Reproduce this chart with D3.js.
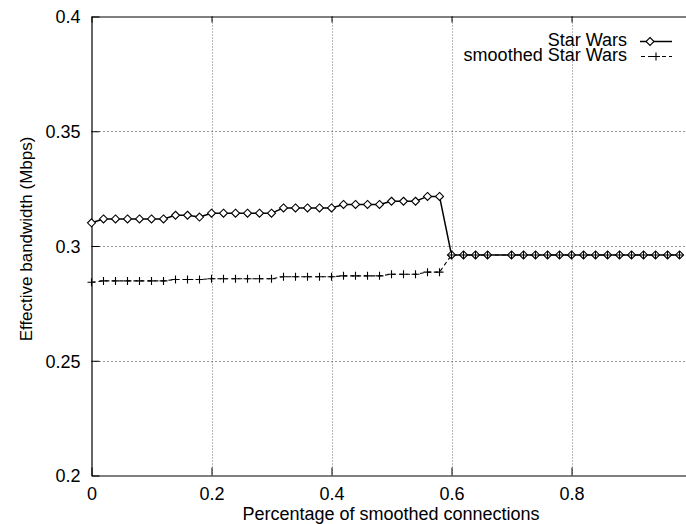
<!DOCTYPE html>
<html>
<head>
<meta charset="utf-8">
<script src="https://cdn.jsdelivr.net/npm/d3@7"></script>
<style>
  html, body { margin: 0; padding: 0; background: #fff; }
  svg { display: block; font-family: "Liberation Sans", Arial, sans-serif; }
</style>
</head>
<body>
<svg id="chart" width="686" height="524"></svg>
<script>
// ---- data ----
const xValues = [0, 0.02, 0.04, 0.06, 0.08, 0.10, 0.12, 0.14, 0.16, 0.18,
  0.20, 0.22, 0.24, 0.26, 0.28, 0.30, 0.32, 0.34, 0.36, 0.38,
  0.40, 0.42, 0.44, 0.46, 0.48, 0.50, 0.52, 0.54, 0.56, 0.58,
  0.60, 0.62, 0.64, 0.66, 0.70, 0.72, 0.74, 0.76, 0.78,
  0.80, 0.82, 0.84, 0.86, 0.88, 0.90, 0.92, 0.94, 0.96, 0.98];
const starWars = [0.3101, 0.3118, 0.3118, 0.3118, 0.3118, 0.3118, 0.3118, 0.3134, 0.3134, 0.3126,
  0.3143, 0.3143, 0.3143, 0.3143, 0.3143, 0.3143, 0.3166, 0.3166, 0.3166, 0.3166,
  0.3166, 0.3181, 0.3181, 0.3181, 0.3181, 0.3195, 0.3195, 0.3195, 0.3216, 0.3216,
  0.2961, 0.2961, 0.2961, 0.2961, 0.2961, 0.2961, 0.2961, 0.2961, 0.2961,
  0.2961, 0.2961, 0.2961, 0.2961, 0.2961, 0.2961, 0.2961, 0.2961, 0.2961, 0.2961];
const smoothedStarWars = [0.2842, 0.2848, 0.2848, 0.2848, 0.2848, 0.2848, 0.2848, 0.2854, 0.2854, 0.2854,
  0.2857, 0.2857, 0.2857, 0.2857, 0.2857, 0.2857, 0.2866, 0.2866, 0.2866, 0.2866,
  0.2866, 0.2870, 0.2870, 0.2870, 0.2870, 0.2877, 0.2877, 0.2877, 0.2886, 0.2886,
  0.2961, 0.2961, 0.2961, 0.2961, 0.2961, 0.2961, 0.2961, 0.2961, 0.2961,
  0.2961, 0.2961, 0.2961, 0.2961, 0.2961, 0.2961, 0.2961, 0.2961, 0.2961, 0.2961];
const seriesNames = ["Star Wars", "smoothed Star Wars"];
const xTicks = [0, 0.2, 0.4, 0.6, 0.8];
const xTickLabels = ["0", "0.2", "0.4", "0.6", "0.8"];
const yTicks = [0.2, 0.25, 0.3, 0.35, 0.4];
const yTickLabels = ["0.2", "0.25", "0.3", "0.35", "0.4"];
const xTitle = "Percentage of smoothed connections";
const yTitle = "Effective bandwidth (Mbps)";

// ---- layout ----
const svg = d3.select("#chart");
const pLeft = 91.5, pRight = 686, pTop = 16.5, pBottom = 475.5;
const x = d3.scaleLinear().domain([0, 0.9908]).range([pLeft, pRight]);
const y = d3.scaleLinear().domain([0.2, 0.4]).range([pBottom, pTop]);

// grid
const grid = svg.append("g");
grid.selectAll("line.gx").data(xTicks.filter(d => d > 0)).enter().append("line")
  .attr("x1", d => Math.round(x(d)) + 0.5).attr("x2", d => Math.round(x(d)) + 0.5)
  .attr("y1", pTop).attr("y2", pBottom)
  .attr("stroke", "#777").attr("stroke-width", 1).attr("stroke-dasharray", "1,2");
grid.selectAll("line.gy").data(yTicks.filter(d => d > 0.2 && d < 0.4)).enter().append("line")
  .attr("x1", pLeft).attr("x2", pRight)
  .attr("y1", d => Math.round(y(d)) + 0.5).attr("y2", d => Math.round(y(d)) + 0.5)
  .attr("stroke", "#333").attr("stroke-width", 1).attr("stroke-dasharray", "1,3");

// axes (gnuplot-style inward ticks)
const xAxisB = d3.axisBottom(x).tickValues(xTicks).tickSizeInner(-8).tickSizeOuter(0)
  .tickFormat((d, i) => xTickLabels[i]).tickPadding(11.5);
const gxb = svg.append("g").attr("transform", `translate(0,${pBottom})`).call(xAxisB);
const xAxisT = d3.axisTop(x).tickValues(xTicks).tickSizeInner(-6).tickSizeOuter(0).tickFormat("");
const gxt = svg.append("g").attr("transform", `translate(0,${pTop})`).call(xAxisT);
const yAxisL = d3.axisLeft(y).tickValues(yTicks).tickSizeInner(-8).tickSizeOuter(0)
  .tickFormat((d, i) => yTickLabels[i]).tickPadding(11);
const gyl = svg.append("g").attr("transform", `translate(${pLeft},0)`).call(yAxisL);
[gxb, gxt, gyl].forEach(g => {
  g.select(".domain").attr("stroke", "#000").attr("stroke-width", 1.2);
  g.selectAll(".tick line").attr("stroke", "#000").attr("stroke-width", 1);
  g.selectAll(".tick text").attr("fill", "#000").attr("font-size", 18)
    .attr("font-family", "Liberation Sans, Arial, sans-serif");
});
gxb.selectAll(".tick text").attr("dy", "0.71em");
gyl.selectAll(".tick text").attr("dy", "0.36em");

// titles
svg.append("text").attr("x", 391).attr("y", 519.5).attr("text-anchor", "middle")
  .attr("font-size", 18).attr("fill", "#000").text(xTitle);
svg.append("text").attr("transform", "translate(32,239) rotate(-90)").attr("text-anchor", "middle")
  .attr("font-size", 17).attr("fill", "#000").text(yTitle);

// series
const swData = xValues.map((v, i) => [v, starWars[i]]);
const smData = xValues.map((v, i) => [v, smoothedStarWars[i]]);
const line = d3.line().x(d => x(d[0])).y(d => y(d[1]));
const plot = svg.append("g");
plot.append("path").datum(swData).attr("d", line).attr("fill", "none")
  .attr("stroke", "#000").attr("stroke-width", 1.5);
plot.append("path").datum(smData).attr("d", line).attr("fill", "none")
  .attr("stroke", "#000").attr("stroke-width", 1.1).attr("stroke-dasharray", "4,3");

const diamond = "M0,-4L4,0L0,4L-4,0Z";
const plus = "M-4,0H4M0,-4V4";
plot.selectAll("path.dm").data(swData).enter().append("path")
  .attr("transform", d => `translate(${x(d[0])},${y(d[1])})`)
  .attr("d", diamond).attr("fill", "#fff").attr("stroke", "#000").attr("stroke-width", 1.1);
plot.selectAll("path.pl").data(smData).enter().append("path")
  .attr("transform", d => `translate(${x(d[0])},${y(d[1])})`)
  .attr("d", plus).attr("fill", "none").attr("stroke", "#000").attr("stroke-width", 1.1);

// legend
const leg = svg.append("g");
leg.append("text").attr("x", 627).attr("y", 46).attr("text-anchor", "end")
  .attr("font-size", 18).attr("fill", "#000").text(seriesNames[0]);
leg.append("line").attr("x1", 640).attr("x2", 672).attr("y1", 41.5).attr("y2", 41.5)
  .attr("stroke", "#000").attr("stroke-width", 1.5);
leg.append("path").attr("transform", "translate(650,41.5)").attr("d", diamond)
  .attr("fill", "#fff").attr("stroke", "#000").attr("stroke-width", 1.1);
leg.append("text").attr("x", 627).attr("y", 61).attr("text-anchor", "end")
  .attr("font-size", 18).attr("fill", "#000").text(seriesNames[1]);
leg.append("line").attr("x1", 641).attr("x2", 672).attr("y1", 56.5).attr("y2", 56.5)
  .attr("stroke", "#000").attr("stroke-width", 1.1).attr("stroke-dasharray", "4,3");
leg.append("path").attr("transform", "translate(656,56.5)").attr("d", plus)
  .attr("fill", "none").attr("stroke", "#000").attr("stroke-width", 1.1);
</script>
</body>
</html>
